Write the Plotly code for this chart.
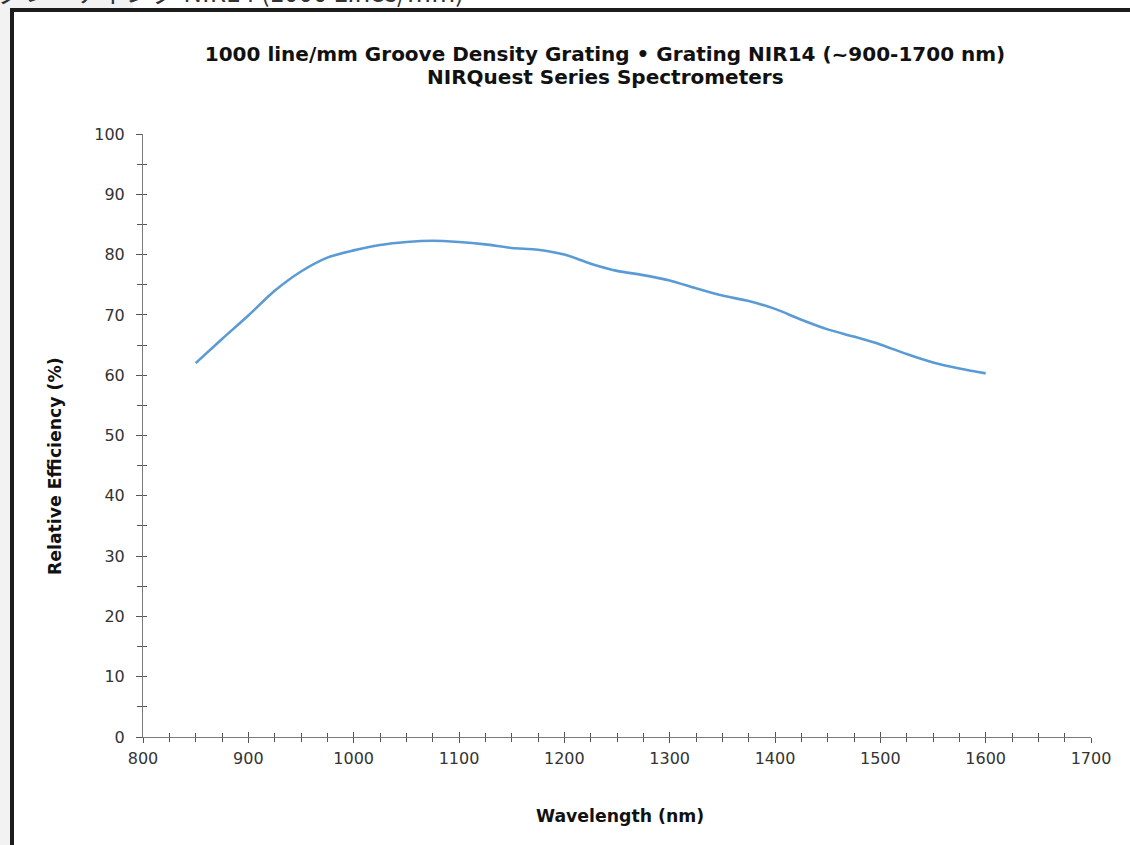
import plotly.graph_objects as go

wavelength_nm = [850, 875, 900, 925, 950, 975, 1000, 1025, 1050, 1075, 1100, 1125, 1150,
                 1175, 1200, 1225, 1250, 1275, 1300, 1325, 1350, 1375, 1400, 1425, 1450,
                 1475, 1500, 1525, 1550, 1575, 1600]
efficiency_pct = [62.0, 66.0, 69.9, 74.0, 77.2, 79.5, 80.7, 81.6, 82.1, 82.3, 82.1, 81.7, 81.1,
                  80.8, 80.0, 78.5, 77.3, 76.6, 75.7, 74.4, 73.2, 72.3, 71.0, 69.2, 67.6,
                  66.4, 65.1, 63.5, 62.1, 61.1, 60.3]

title_line1 = "1000 line/mm Groove Density Grating \u2022 Grating NIR14 (~900-1700 nm)"
title_line2 = "NIRQuest Series Spectrometers"
x_title = "Wavelength (nm)"
y_title = "Relative Efficiency (%)"
page_caption = "グレーティング NIR14 (1000 Lines/mm)"

W, H = 1130, 845
L, R, T, B = 143, 39, 134, 108
PW, PH = W - L - R, H - T - B

def px(x):
    return (x - L) / PW

def py(y):
    return (H - B - y) / PH

FONT = "DejaVu Sans, Liberation Sans, Arial, sans-serif"
AXIS_COL = "#7a7a7a"
TICK_COL = "#555555"

fig = go.Figure()
fig.add_trace(go.Scatter(
    x=wavelength_nm, y=efficiency_pct, mode="lines",
    line=dict(color="#5b9bd5", width=2.6, shape="spline", smoothing=0.8),
    hoverinfo="x+y", showlegend=False,
))
# invisible trace on overlay axes that carry the inward half of each tick
fig.add_trace(go.Scatter(x=[800], y=[0], xaxis="x2", yaxis="y2", mode="markers",
                         marker=dict(opacity=0), showlegend=False, hoverinfo="skip"))

common_x = dict(range=[800, 1700], showgrid=False, zeroline=False,
                showline=True, linecolor=AXIS_COL, linewidth=1,
                tickcolor=TICK_COL, tickwidth=1, dtick=100, tick0=800)
common_y = dict(range=[0, 100], showgrid=False, zeroline=False,
                showline=True, linecolor=AXIS_COL, linewidth=1,
                tickcolor=TICK_COL, tickwidth=1, dtick=10, tick0=0)

fig.update_layout(
    width=W, height=H,
    margin=dict(l=L, r=R, t=T, b=B, pad=0),
    paper_bgcolor="white", plot_bgcolor="white",
    font=dict(family=FONT, color="#222222"),
    title=dict(text=f"<b>{title_line1}</b>",
               x=605 / W, xanchor="center",
               y=1 - 54 / H, yanchor="middle", yref="container",
               font=dict(size=20, color="#111111", family=FONT)),
    xaxis=dict(**common_x, ticks="outside", ticklen=5,
               minor=dict(dtick=25, tick0=800, ticks="outside", ticklen=4,
                          tickcolor=TICK_COL, showgrid=False),
               tickfont=dict(size=16, color="#333333"), ticklabelstandoff=2),
    yaxis=dict(**common_y, ticks="outside", ticklen=6,
               minor=dict(dtick=5, tick0=0, ticks="outside", ticklen=5,
                          tickcolor=TICK_COL, showgrid=False),
               tickfont=dict(size=16, color="#333333"), ticklabelstandoff=8),
    xaxis2=dict(**common_x, overlaying="x", anchor="y2", side="bottom",
                ticks="inside", ticklen=5, showticklabels=False,
                minor=dict(dtick=25, tick0=800, ticks="inside", ticklen=4,
                           tickcolor=TICK_COL, showgrid=False)),
    yaxis2=dict(**common_y, overlaying="y", anchor="x2", side="left",
                ticks="inside", ticklen=4, showticklabels=False,
                minor=dict(dtick=5, tick0=0, ticks="inside", ticklen=4,
                           tickcolor=TICK_COL, showgrid=False)),
)

annotations = [
    dict(text=f"<b>{title_line2}</b>", x=px(605), y=py(77), xref="paper", yref="paper",
         showarrow=False, xanchor="center", yanchor="middle",
         font=dict(size=20, color="#111111", family=FONT)),
    dict(text=f"<b>{x_title}</b>", x=px(620), y=py(816), xref="paper", yref="paper",
         showarrow=False, xanchor="center", yanchor="middle",
         font=dict(size=17.3, color="#111111", family=FONT)),
    dict(text=f"<b>{y_title}</b>", x=px(55), y=py(466), xref="paper", yref="paper",
         showarrow=False, xanchor="center", yanchor="middle", textangle=-90,
         font=dict(size=17.3, color="#111111", family=FONT)),
    dict(text=page_caption, x=px(-5), y=py(11), xref="paper", yref="paper",
         showarrow=False, xanchor="left", yanchor="bottom",
         font=dict(size=26, color="#333333", family="Noto Sans CJK JP, Noto Sans, sans-serif")),
]
fig.update_layout(annotations=annotations)

shapes = [
    dict(type="rect", xref="paper", yref="paper", x0=px(0), x1=px(10), y0=py(H), y1=py(0),
         fillcolor="#f2f2f2", line=dict(width=0), layer="below"),
    dict(type="rect", xref="paper", yref="paper", x0=px(0), x1=px(133), y0=py(8), y1=py(0),
         fillcolor="#f2f2f2", line=dict(width=0), layer="below"),
    dict(type="rect", xref="paper", yref="paper", x0=px(10), x1=px(14), y0=py(H), y1=py(8),
         fillcolor="#1c1c1c", line=dict(width=0)),
    dict(type="rect", xref="paper", yref="paper", x0=px(10), x1=px(W), y0=py(12), y1=py(8),
         fillcolor="#1c1c1c", line=dict(width=0)),
]
fig.update_layout(shapes=shapes)

fig.write_html("out.html", config={"displayModeBar": False},
               post_script="document.body.style.margin='0';")
